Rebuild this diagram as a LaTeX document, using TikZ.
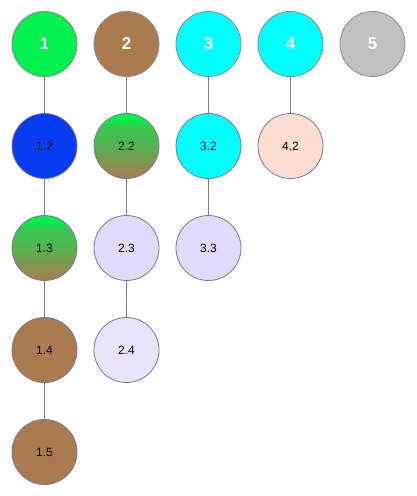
\documentclass[tikz,border=0pt]{standalone}
\usepackage{fontspec}
\setmainfont{Liberation Sans}
\definecolor{cgreen}{RGB}{0,240,80}
\definecolor{cbrown}{RGB}{169,123,79}
\definecolor{ccyan}{RGB}{0,255,255}
\definecolor{cgray}{RGB}{192,192,192}
\definecolor{cblue}{RGB}{8,60,240}
\definecolor{clav}{RGB}{227,218,250}
\definecolor{clavl}{RGB}{234,227,251}
\definecolor{cpeach}{RGB}{255,221,208}
\definecolor{cmid}{RGB}{66,192,80}
\definecolor{cedge}{RGB}{128,120,144}
\definecolor{cline}{RGB}{126,120,144}
\pgfdeclareverticalshading{gb}{100bp}{color(0bp)=(cbrown); color(25bp)=(cbrown); color(47bp)=(cmid!70!cbrown); color(58bp)=(cmid); color(64bp)=(cmid); color(70bp)=(cgreen); color(100bp)=(cgreen)}
\begin{document}
\begin{tikzpicture}[x=1pt,y=-1pt,
  ball/.style={circle,draw=cedge,line width=0.8pt,minimum size=65pt,inner sep=0pt,font=\fontsize{12}{12}\selectfont},
  topball/.style={ball,draw=gray!90,text=white,font=\fontsize{17}{17}\selectfont\bfseries},
  link/.style={draw=cline,line width=0.8pt}]
\useasboundingbox (0,0) rectangle (416,496);
\node[topball,fill=cgreen] (n1) at (44.5,44) {1};
\node[topball,fill=cbrown] (n2) at (126.5,44) {2};
\node[topball,fill=ccyan] (n3) at (208.5,44) {3};
\node[topball,fill=ccyan] (n4) at (290.5,44) {4};
\node[topball,fill=cgray] (n5) at (372.5,44) {5};
\node[ball,fill=cblue] (n12) at (44.5,146) {1.2};
\node[ball,shading=gb] (n13) at (44.5,248) {1.3};
\node[ball,fill=cbrown] (n14) at (44.5,350) {1.4};
\node[ball,fill=cbrown] (n15) at (44.5,452) {1.5};
\node[ball,shading=gb] (n22) at (126.5,146) {2.2};
\node[ball,fill=clav] (n23) at (126.5,248) {2.3};
\node[ball,fill=clavl] (n24) at (126.5,350) {2.4};
\node[ball,fill=ccyan] (n32) at (208.5,146) {3.2};
\node[ball,fill=clav] (n33) at (208.5,248) {3.3};
\node[ball,fill=cpeach] (n42) at (290.5,146) {4.2};
\draw[link] (n1) -- (n12);
\draw[link] (n12) -- (n13);
\draw[link] (n13) -- (n14);
\draw[link] (n14) -- (n15);
\draw[link] (n2) -- (n22);
\draw[link] (n22) -- (n23);
\draw[link] (n23) -- (n24);
\draw[link] (n3) -- (n32);
\draw[link] (n32) -- (n33);
\draw[link] (n4) -- (n42);
\end{tikzpicture}
\end{document}
